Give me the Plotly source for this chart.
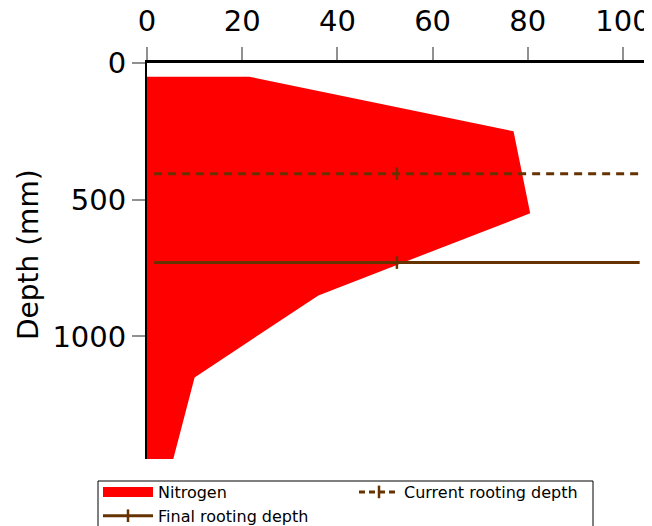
import plotly.graph_objects as go

# Data
depth_mm = [50, 250, 550, 850, 1150, 1450]
nitrogen = [21.5, 77, 80.5, 36, 10, 5.5]

current_depth = 405
final_depth = 730
line_x = [1.5, 52.5, 103.5]

brown = "#663300"
# page body has an 8px margin, so the figure is sized/placed accordingly
W, H = 644, 518
ML, MT, MR, MB = 139, 55, 0, 67

fig = go.Figure()

fig.add_trace(go.Scatter(
    x=nitrogen, y=depth_mm, mode="lines", fill="tozerox",
    fillcolor="#FF0000", line=dict(color="#FF0000", width=0),
    name="Nitrogen", showlegend=False,
))

# Current rooting depth (dashed)
fig.add_trace(go.Scatter(
    x=[line_x[0], line_x[2]], y=[current_depth, current_depth], mode="lines",
    line=dict(color=brown, width=3, dash="8px,6px"), showlegend=False,
))
fig.add_trace(go.Scatter(
    x=[line_x[1]], y=[current_depth], mode="markers",
    marker=dict(symbol="line-ns", size=9, line=dict(color=brown, width=2.5)),
    showlegend=False,
))
# Final rooting depth (solid)
fig.add_trace(go.Scatter(
    x=[line_x[0], line_x[2]], y=[final_depth, final_depth], mode="lines",
    line=dict(color=brown, width=3), showlegend=False,
))
fig.add_trace(go.Scatter(
    x=[line_x[1]], y=[final_depth], mode="markers",
    marker=dict(symbol="line-ns", size=9, line=dict(color=brown, width=2.5)),
    showlegend=False,
))

# Legend entries
fig.add_trace(go.Scatter(
    x=[None], y=[None], mode="lines", name="Nitrogen",
    line=dict(color="#FF0000", width=12), legend="legend",
))
fig.add_trace(go.Scatter(
    x=[None], y=[None], mode="lines+markers", name="Final rooting depth",
    line=dict(color=brown, width=3),
    marker=dict(symbol="line-ns", size=9, line=dict(color=brown, width=2.5)),
    legend="legend",
))
fig.add_trace(go.Scatter(
    x=[None], y=[None], mode="lines+markers", name="Current rooting depth",
    line=dict(color=brown, width=3, dash="6px,4px"),
    marker=dict(symbol="line-ns", size=9, line=dict(color=brown, width=2.5)),
    legend="legend2",
))

plot_w = W - ML - MR
x_max = plot_w / 4.76
plot_h = H - MT - MB
y_max = plot_h / 0.2734

def px(fx):
    return (fx - ML) / plot_w

def py(fy):
    return 1 - (fy - MT) / plot_h

font_main = "DejaVu Sans"
legend_common = dict(
    orientation="v", xref="container", yref="container",
    xanchor="left", yanchor="top", borderwidth=0, bgcolor="rgba(0,0,0,0)",
    font=dict(family=font_main, size=16), tracegroupgap=0,
)

fig.update_layout(
    width=W, height=H,
    margin=dict(l=ML, r=MR, t=MT, b=MB, pad=0, autoexpand=False),
    paper_bgcolor="white", plot_bgcolor="white",
    font=dict(family=font_main, color="black", size=29),
    xaxis=dict(
        side="top", range=[0, x_max], tickvals=[0, 20, 40, 60, 80, 100],
        showgrid=False, zeroline=False, showline=True, linecolor="black",
        linewidth=3, ticks="outside", ticklen=13, tickwidth=1.5, tickcolor="#909090",
        tickfont=dict(family=font_main, size=29), ticklabelstandoff=4,
        automargin=False,
    ),
    yaxis=dict(
        range=[y_max, 0], tickvals=[0, 500, 1000],
        showgrid=False, zeroline=False, showline=True, linecolor="black",
        linewidth=2, ticks="outside", ticklen=13, tickwidth=1.5, tickcolor="#909090",
        tickfont=dict(family=font_main, size=29), automargin=False,
    ),
    legend=dict(x=90 / W, y=1 - 467 / H, itemwidth=50, **legend_common),
    legend2=dict(x=346 / W, y=1 - 467 / H, itemwidth=40, **legend_common),
    shapes=[dict(
        type="rect", xref="paper", yref="paper",
        x0=px(90), x1=px(585), y0=py(524), y1=py(473),
        line=dict(color="black", width=1), fillcolor="rgba(0,0,0,0)",
        layer="below",
    )],
    annotations=[
        dict(
            text="Depth (mm)", xref="paper", yref="paper",
            x=px(20), y=py(247), xanchor="center", yanchor="middle",
            textangle=-90, showarrow=False,
            font=dict(family=font_main, size=28, color="black"),
        ),
        dict(
            text="Nitrogen (kg/ha)", xref="paper", yref="paper",
            x=(642 - ML) / plot_w, y=1 + (MT + 4) / plot_h,
            xanchor="right", yanchor="bottom", showarrow=False,
            font=dict(family="Liberation Sans", size=25, color="#0000FF"),
        ),
    ],
)

fig.write_html("out.html")
